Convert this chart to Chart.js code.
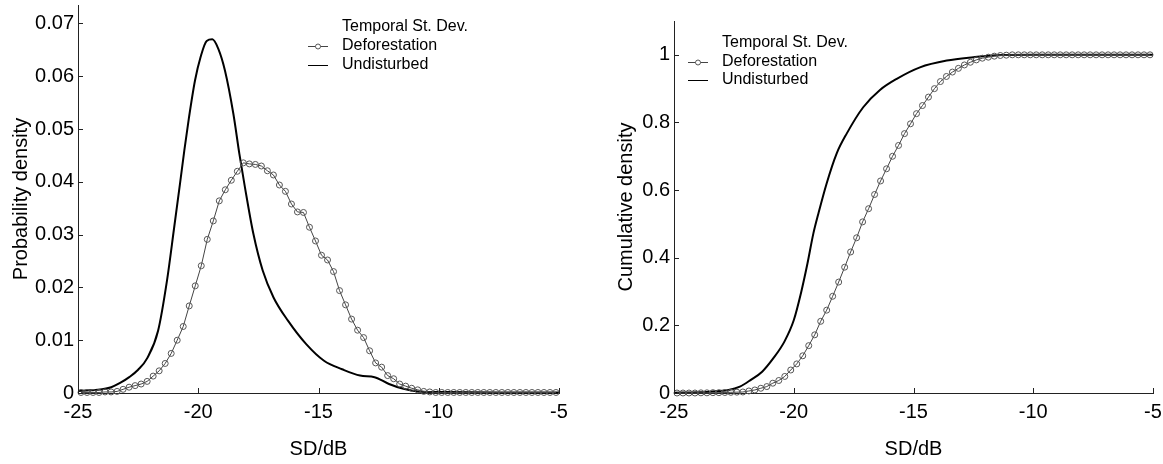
<!DOCTYPE html>
<html>
<head>
<meta charset="utf-8">
<script src="https://cdn.jsdelivr.net/npm/chart.js@4.4.0/dist/chart.umd.min.js"></script>
<style>
  html, body { margin: 0; padding: 0; background: #fff; }
  #wrap { position: relative; width: 1163px; height: 464px; overflow: hidden; }
  canvas { position: absolute; top: 0; }
  #pdf { left: 0; }
  #cdf { left: 580px; }
</style>
</head>
<body>
<div id="wrap">
  <canvas id="pdf" width="580" height="464"></canvas>
  <canvas id="cdf" width="583" height="464"></canvas>
</div>
<script>
// ---------- DATA ----------
const legendTitle = "Temporal St. Dev.";
const seriesNames = ["Deforestation", "Undisturbed"];
const xTitle = "SD/dB";
const pdfTitle = "Probability density";
const cdfTitle = "Cumulative density";

const xTicks = [-25, -20, -15, -10, -5];
const xTickLabels = ["-25", "-20", "-15", "-10", "-5"];
const pdfTicks = [0, 0.01, 0.02, 0.03, 0.04, 0.05, 0.06, 0.07];
const pdfTickLabels = ["0", "0.01", "0.02", "0.03", "0.04", "0.05", "0.06", "0.07"];
const cdfTicks = [0, 0.2, 0.4, 0.6, 0.8, 1];
const cdfTickLabels = ["0", "0.2", "0.4", "0.6", "0.8", "1"];

// Deforestation: bin centres (SD/dB)
const defX = [
  -24.875, -24.625, -24.375, -24.125, -23.875, -23.625, -23.375, -23.125, -22.875, -22.625,
  -22.375, -22.125, -21.875, -21.625, -21.375, -21.125, -20.875, -20.625, -20.375, -20.125,
  -19.875, -19.625, -19.375, -19.125, -18.875, -18.625, -18.375, -18.125, -17.875, -17.625,
  -17.375, -17.125, -16.875, -16.625, -16.375, -16.125, -15.875, -15.625, -15.375, -15.125,
  -14.875, -14.625, -14.375, -14.125, -13.875, -13.625, -13.375, -13.125, -12.875, -12.625,
  -12.375, -12.125, -11.875, -11.625, -11.375, -11.125, -10.875, -10.625, -10.375, -10.125,
  -9.875, -9.625, -9.375, -9.125, -8.875, -8.625, -8.375, -8.125, -7.875, -7.625,
  -7.375, -7.125, -6.875, -6.625, -6.375, -6.125, -5.875, -5.625, -5.375, -5.125
];
const defPdf = [
  0.0001, 0.0001, 0.0001, 0.0001, 0.0002, 0.0002, 0.0003, 0.0007, 0.0011, 0.0014,
  0.0017, 0.0022, 0.0032, 0.0042, 0.0056, 0.0075, 0.0100, 0.0126, 0.0165, 0.0203,
  0.0241, 0.0291, 0.0326, 0.0364, 0.0385, 0.0403, 0.0420, 0.0436, 0.0434, 0.0433,
  0.0430, 0.0421, 0.0413, 0.0394, 0.0382, 0.0358, 0.0343, 0.0342, 0.0314, 0.0288,
  0.0261, 0.0252, 0.0230, 0.0194, 0.0167, 0.0140, 0.0119, 0.0105, 0.0080, 0.0057,
  0.0049, 0.0033, 0.0027, 0.0017, 0.0013, 0.0009, 0.0006, 0.0003, 0.0002, 0.0001,
  0.0001, 0.0001, 0.0001, 0.0001, 0.0001, 0.0001, 0.0001, 0.0001, 0.0001, 0.0001,
  0.0001, 0.0001, 0.0001, 0.0001, 0.0001, 0.0001, 0.0001, 0.0001, 0.0001, 0.0001
];
const defCdf = [
  0, 0, 0, 0, 0.0005, 0.0005, 0.001, 0.001, 0.0015, 0.002,
  0.0025, 0.003, 0.006, 0.009, 0.014, 0.019, 0.029, 0.037, 0.049, 0.068,
  0.086, 0.110, 0.140, 0.172, 0.212, 0.245, 0.286, 0.328, 0.372, 0.417,
  0.459, 0.506, 0.545, 0.587, 0.627, 0.663, 0.700, 0.732, 0.767, 0.796,
  0.826, 0.850, 0.875, 0.900, 0.921, 0.936, 0.949, 0.960, 0.970, 0.978,
  0.985, 0.990, 0.993, 0.996, 0.998, 0.999, 1, 1, 1, 1,
  1, 1, 1, 1, 1, 1, 1, 1, 1, 1,
  1, 1, 1, 1, 1, 1, 1, 1, 1, 1
];

// Undisturbed: read points along the thick curves
const undPdfX = [
  -25, -24.5, -24, -23.62, -23.25, -22.87, -22.5, -22.12, -21.67, -21.3,
  -21.0, -20.76, -20.58, -20.385, -20.135, -19.9, -19.65, -19.415, -19.165, -18.89,
  -18.54, -18.29, -18.06, -17.71, -17.32, -16.87, -16.27, -15.52, -14.77, -14.02,
  -13.27, -12.67, -12.07, -11.47, -10.87, -10.0, -7.5, -5.0
];
const undPdf = [
  0.0004, 0.0005, 0.0007, 0.0011, 0.0019, 0.0030, 0.0044, 0.0066, 0.0118, 0.0213,
  0.0314, 0.0396, 0.0459, 0.0522, 0.0592, 0.0637, 0.0667, 0.0670, 0.0652, 0.0611,
  0.0529, 0.0453, 0.0390, 0.0302, 0.0232, 0.0181, 0.0137, 0.0093, 0.0061, 0.0045,
  0.0033, 0.0030, 0.0017, 0.0008, 0.0003, 0.0002, 0.0001, 0.0001
];
const undCdfX = [
  -25, -24, -23.5, -22.72, -22.25, -21.79, -21.32, -20.85, -20.39, -20.0,
  -19.69, -19.43, -19.18, -18.97, -18.63, -18.21, -17.79, -17.1, -16.4, -15.7,
  -14.73, -13.61, -12.5, -11.53, -10, -5
];
const undCdf = [
  0.001, 0.002, 0.004, 0.009, 0.019, 0.039, 0.063, 0.103, 0.152, 0.215,
  0.298, 0.382, 0.472, 0.531, 0.619, 0.708, 0.767, 0.845, 0.896, 0.929,
  0.963, 0.983, 0.993, 0.999, 1.0, 1.0
];

// ---------- RENDERING ----------
const FONT = "'Liberation Sans', Arial, Helvetica, sans-serif";
Chart.defaults.font.family = FONT;
Chart.defaults.color = '#000';

const AXIS_COLOR = '#222';
const DEF_LINE = '#444';
const DEF_MARK = '#555';

const pairs = (xs, ys) => xs.map((x, i) => ({ x: x, y: ys[i] }));

const inwardTicks = {
  id: 'inwardTicks',
  afterDraw(chart) {
    const { ctx, chartArea: a, scales } = chart;
    const x = scales.x, y = scales.y;
    ctx.save();
    ctx.strokeStyle = AXIS_COLOR;
    ctx.lineWidth = 1;
    ctx.beginPath();
    x.ticks.forEach(t => {
      const px = Math.round(x.getPixelForValue(t.value)) + 0.5;
      ctx.moveTo(px, a.bottom); ctx.lineTo(px, a.bottom - 5);
    });
    y.ticks.forEach(t => {
      const py = Math.round(y.getPixelForValue(t.value)) + 0.5;
      ctx.moveTo(a.left, py); ctx.lineTo(a.left + 5, py);
    });
    ctx.stroke();
    ctx.restore();
  }
};

const boxLegend = {
  id: 'boxLegend',
  afterDraw(chart, args, o) {
    const { ctx, chartArea: a } = chart;
    ctx.save();
    ctx.font = '16px ' + FONT;
    ctx.fillStyle = '#000';
    ctx.textBaseline = 'middle';
    ctx.textAlign = 'left';
    const tx = a.left + o.textDx;
    const s0 = a.left + o.sampleDx, s1 = s0 + 20;
    ctx.fillText(legendTitle, tx, a.top + o.rowDy[0]);
    let yy = Math.round(a.top + o.rowDy[1]) + 0.5;
    ctx.strokeStyle = DEF_LINE; ctx.lineWidth = 1;
    ctx.beginPath(); ctx.moveTo(s0, yy); ctx.lineTo(s1, yy); ctx.stroke();
    ctx.fillStyle = '#fff';
    ctx.strokeStyle = DEF_MARK;
    ctx.beginPath(); ctx.arc((s0 + s1) / 2, yy, 2.5, 0, Math.PI * 2); ctx.fill(); ctx.stroke();
    ctx.fillStyle = '#000';
    ctx.fillText(seriesNames[0], tx, a.top + o.rowDy[1]);
    yy = Math.round(a.top + o.rowDy[2]) + 0.5;
    ctx.strokeStyle = '#000';
    ctx.beginPath(); ctx.moveTo(s0, yy); ctx.lineTo(s1, yy); ctx.stroke();
    ctx.fillText(seriesNames[1], tx, a.top + o.rowDy[2]);
    ctx.restore();
  }
};

function makeChart(canvasId, opt) {
  return new Chart(document.getElementById(canvasId), {
    type: 'line',
    data: {
      datasets: [
        {
          label: seriesNames[0],
          data: pairs(defX, opt.defY),
          borderColor: DEF_LINE,
          borderWidth: 1,
          pointRadius: 3,
          pointBorderWidth: 1,
          pointBorderColor: DEF_MARK,
          pointBackgroundColor: 'rgba(0,0,0,0)',
          tension: 0,
          clip: false
        },
        {
          label: seriesNames[1],
          data: pairs(opt.undX, opt.undY),
          borderColor: '#000',
          borderWidth: 2,
          pointRadius: 0,
          cubicInterpolationMode: 'monotone',
          clip: false
        }
      ]
    },
    options: {
      responsive: false,
      animation: false,
      devicePixelRatio: 1,
      events: [],
      layout: { padding: opt.padding },
      plugins: {
        legend: { display: false },
        tooltip: { enabled: false },
        boxLegend: opt.legend
      },
      scales: {
        x: {
          type: 'linear',
          min: -25, max: -5,
          grid: { display: false, drawTicks: false },
          border: { display: true, color: AXIS_COLOR, width: 1 },
          afterBuildTicks(s) { s.ticks = xTicks.map(v => ({ value: v })); },
          afterFit(s) { s.height = 71; s.paddingLeft = 0; s.paddingRight = 0; },
          ticks: {
            font: { size: 20 },
            color: '#000',
            padding: 7,
            maxRotation: 0,
            autoSkip: false,
            callback: (v, i) => xTickLabels[i]
          },
          title: {
            display: true, text: xTitle,
            font: { size: 20 }, color: '#000',
            padding: { top: 0, bottom: 3 }
          }
        },
        y: {
          type: 'linear',
          min: 0, max: opt.yMax,
          grid: { display: false, drawTicks: false },
          border: { display: true, color: AXIS_COLOR, width: 1 },
          afterBuildTicks(s) { s.ticks = opt.yTicks.map(v => ({ value: v })); },
          afterFit(s) { s.width = opt.yWidth; s.paddingTop = 0; s.paddingBottom = 0; },
          ticks: {
            font: { size: 20 },
            color: '#000',
            padding: 4,
            autoSkip: false,
            callback: (v, i) => opt.yLabels[i]
          },
          title: {
            display: true, text: opt.yTitle,
            font: { size: 20 }, color: '#000',
            padding: { top: opt.yTitlePad, bottom: 0 }
          }
        }
      }
    },
    plugins: [inwardTicks, boxLegend]
  });
}

makeChart('pdf', {
  defY: defPdf, undX: undPdfX, undY: undPdf,
  yMax: 0.0735, yTicks: pdfTicks, yLabels: pdfTickLabels, yTitle: pdfTitle,
  yWidth: 78, yTitlePad: 9,
  padding: { left: 0, right: 21, top: 4, bottom: 0 },
  legend: { sampleDx: 230, textDx: 264, rowDy: [21.5, 40.5, 59.5] }
});

makeChart('cdf', {
  defY: defCdf, undX: undCdfX, undY: undCdf,
  yMax: 1.1, yTicks: cdfTicks, yLabels: cdfTickLabels, yTitle: cdfTitle,
  yWidth: 94, yTitlePad: 34,
  padding: { left: 0, right: 10, top: 21, bottom: 0 },
  legend: { sampleDx: 14, textDx: 48, rowDy: [21.5, 40.5, 59] }
});
</script>
</body>
</html>
